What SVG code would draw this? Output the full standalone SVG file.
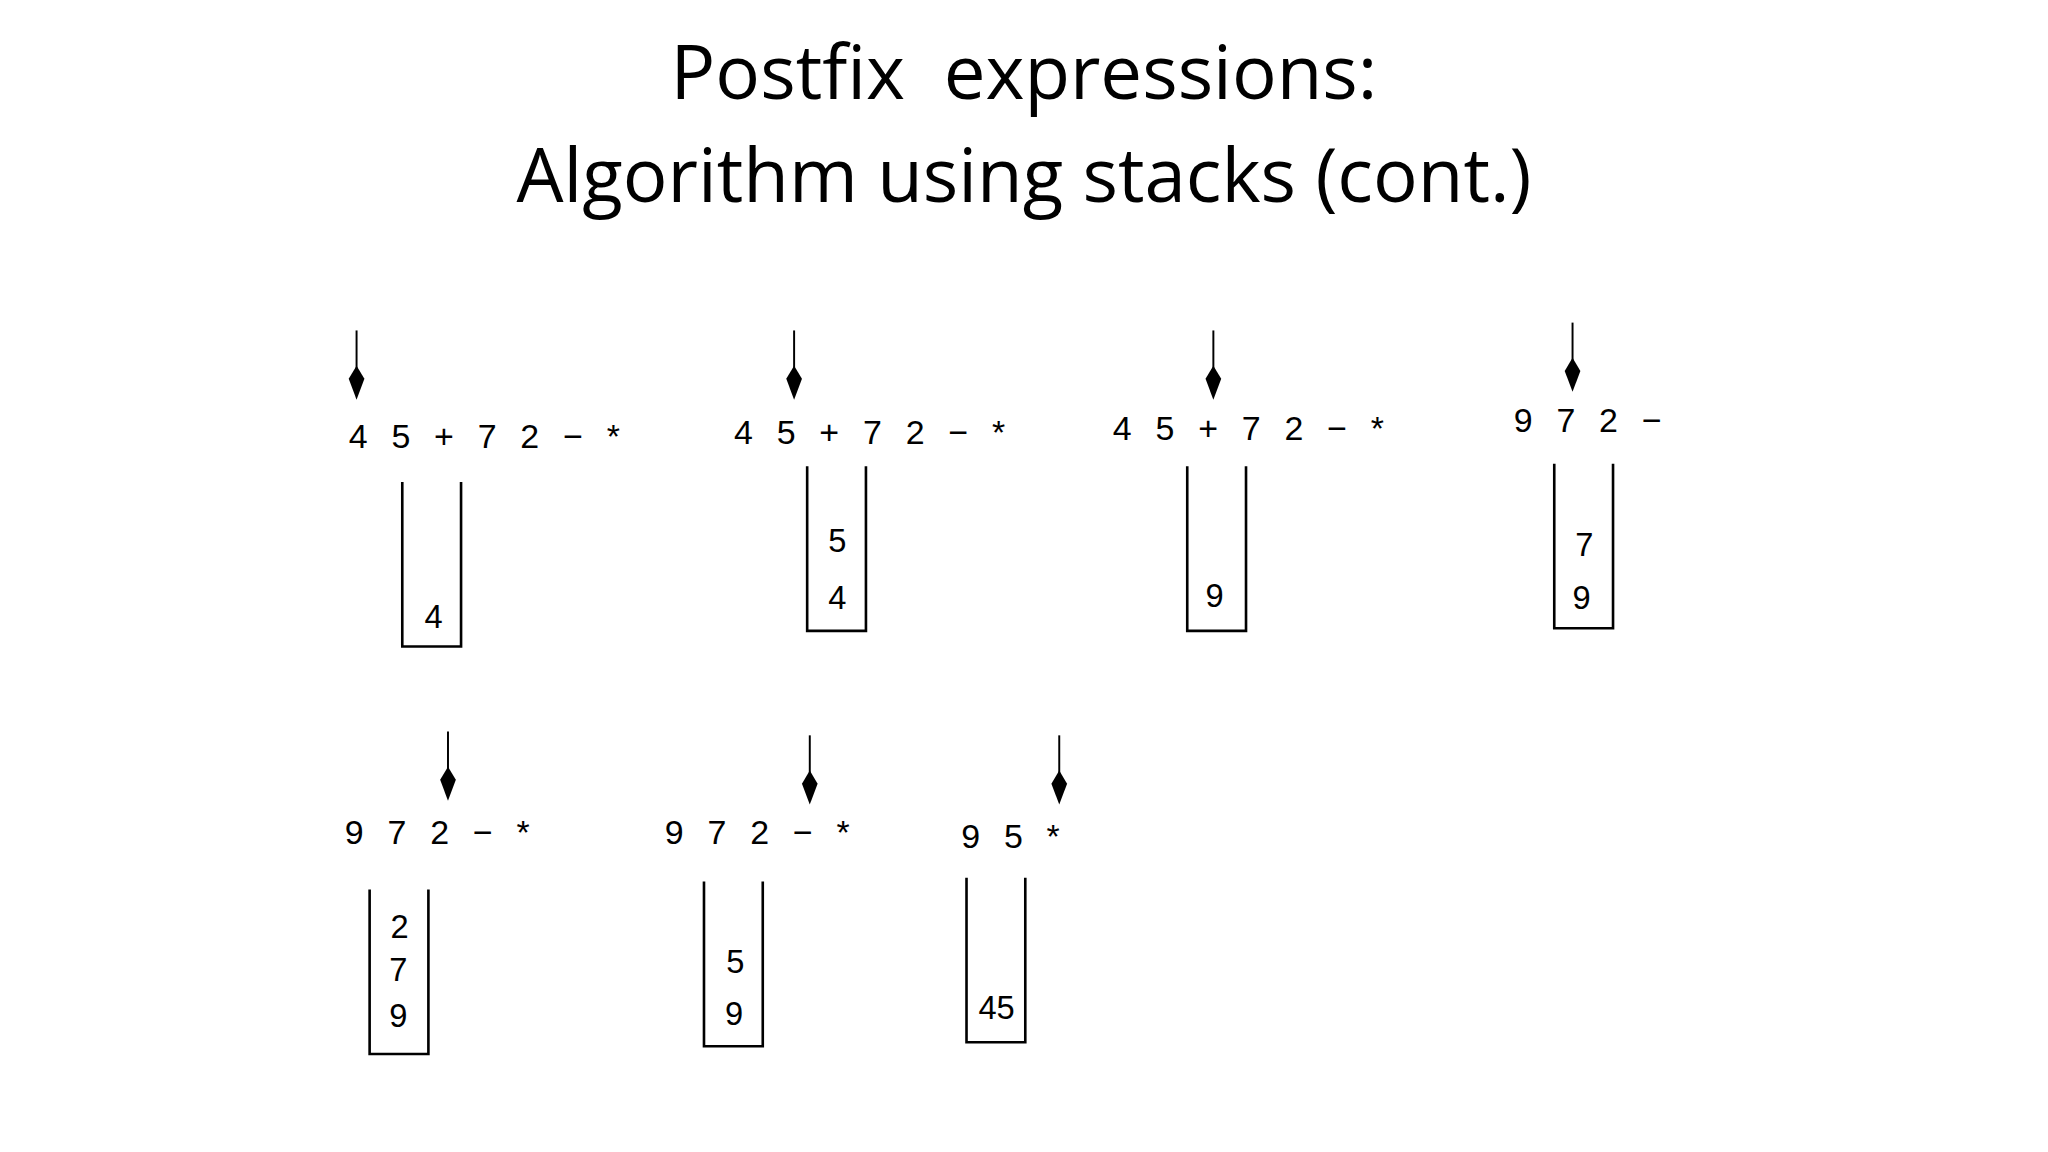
<svg xmlns="http://www.w3.org/2000/svg" xmlns:xlink="http://www.w3.org/1999/xlink" width="2048" height="1152" viewBox="0 0 2048 1152">
<style>
.t{font-family:"Open Sans","Liberation Sans",sans-serif;font-size:57px;fill:#000;text-anchor:middle}
.e{font-family:"Liberation Sans",sans-serif;font-size:26px;fill:#000;letter-spacing:5.5px}
.d{font-family:"Liberation Sans",sans-serif;font-size:25px;fill:#000;text-anchor:middle}
.s{fill:none;stroke:#000;stroke-width:2}
</style>
<defs>
<g id="arr"><line x1="0" y1="0" x2="0" y2="40" stroke="#000" stroke-width="1.5"/><polygon points="0,53 -6,37 0,27 6,37" fill="#000"/></g>
<path id="stk" d="M0,0 V126 H45 V0" class="s"/>
</defs>
<rect width="2048" height="1152" fill="#fff"/>
<g transform="scale(1.3061)">
<text class="t" x="784" y="76" xml:space="preserve">Postfix  expressions:</text>
<text class="t" x="784" y="155">Algorithm using stacks (cont.)</text>
<g id="connectors">
<use xlink:href="#arr" x="273" y="253"/>
<use xlink:href="#arr" x="608" y="253"/>
<use xlink:href="#arr" x="929" y="253"/>
<use xlink:href="#arr" x="1204" y="247"/>
<use xlink:href="#arr" x="343" y="560"/>
<use xlink:href="#arr" x="620" y="563"/>
<use xlink:href="#arr" x="811" y="563"/>
</g>
<g id="p1"><text class="e" x="267" y="343">4 5 + 7 2 − *</text><use xlink:href="#stk" x="308" y="369"/><text class="d" x="332" y="481">4</text></g>
<g id="p2"><text class="e" x="562" y="340">4 5 + 7 2 − *</text><use xlink:href="#stk" x="618" y="357"/><text class="d" x="641" y="423">5</text><text class="d" x="641" y="466">4</text></g>
<g id="p3"><text class="e" x="852" y="337">4 5 + 7 2 − *</text><use xlink:href="#stk" x="909" y="357"/><text class="d" x="930" y="465">9</text></g>
<g id="p4"><text class="e" x="1159" y="331">9 7 2 −</text><use xlink:href="#stk" x="1190" y="355"/><text class="d" x="1213" y="426">7</text><text class="d" x="1211" y="466">9</text></g>
<g id="p5"><text class="e" x="264" y="646">9 7 2 − *</text><use xlink:href="#stk" x="283" y="681"/><text class="d" x="306" y="718">2</text><text class="d" x="305" y="751">7</text><text class="d" x="305" y="786">9</text></g>
<g id="p6"><text class="e" x="509" y="646">9 7 2 − *</text><use xlink:href="#stk" x="539" y="675"/><text class="d" x="563" y="745">5</text><text class="d" x="562" y="785">9</text></g>
<g id="p7"><text class="e" x="736" y="649">9 5 *</text><use xlink:href="#stk" x="740" y="672"/><text class="d" x="763" y="780">45</text></g>
</g>
</svg>
